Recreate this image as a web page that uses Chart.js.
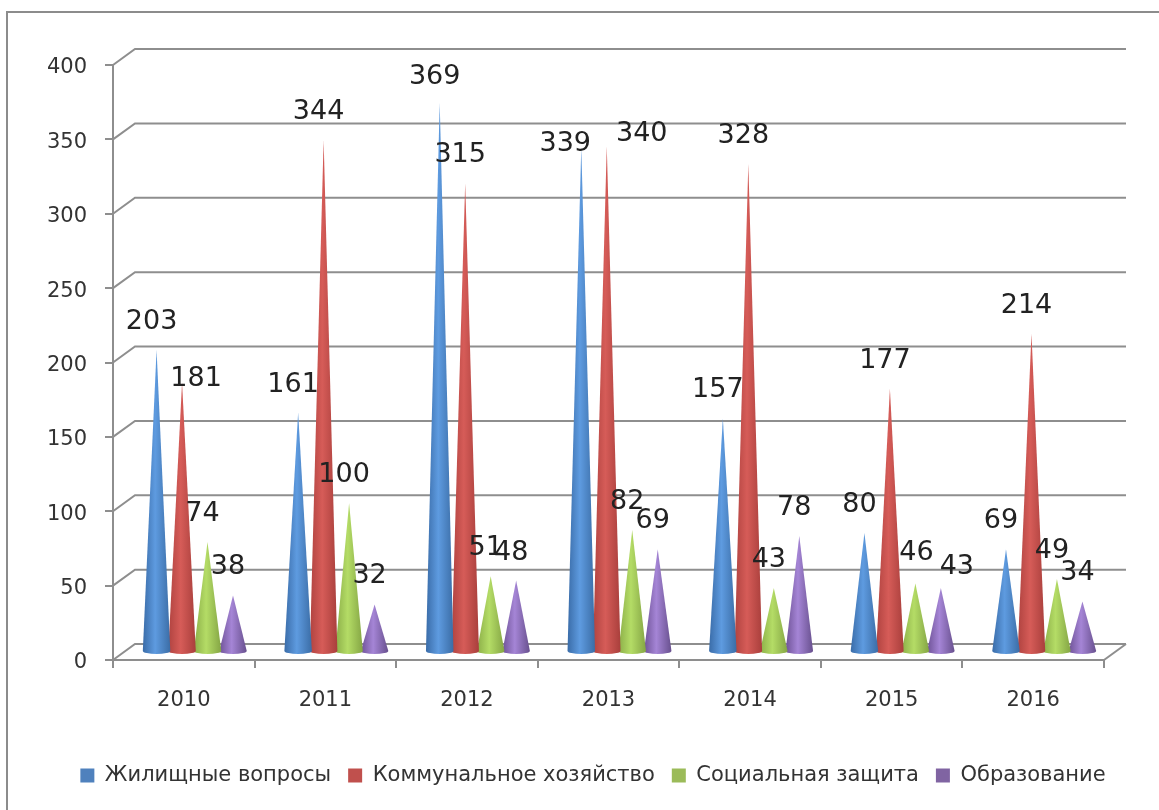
<!DOCTYPE html>
<html>
<head>
<meta charset="utf-8">
<script src="https://cdn.jsdelivr.net/npm/chart.js@4/dist/chart.umd.js"></script>
<style>
    body{margin:0;background:#fff}
    canvas{display:block}
</style>
</head>
<body>
<canvas id="coneChart" width="1159" height="810"></canvas>
<script>
const years = ['2010','2011','2012','2013','2014','2015','2016']
const housing = [203,161,369,339,157,80,69]
const utilities = [181,344,315,340,328,177,214]
const social = [74,100,51,82,43,46,49]
const education = [38,32,48,69,78,43,34]
const yTicks = [0,50,100,150,200,250,300,350,400]

const colors = ['#4F81BD','#C0504D','#9BBB59','#8064A2']
// left edge, highlight, right edge of each cone
const shades = {
    '#4F81BD':['#3A6CA8','#5E9BE0','#3B6DA6'],
    '#C0504D':['#B04340','#D65C58','#A93F3C'],
    '#9BBB59':['#8BAE48','#B4DC66','#84A544'],
    '#8064A2':['#6E5296','#A585D6','#68508E']
}
const gridColor = '#8E8E8E'
const textColor = '#333333'
const fontName = '"DejaVu Sans"'

// 3d depth of the box: how far the back wall sits from the front axes
const depthX = 22
const depthY = 16

// default label sits up and left of the tip, these are the ones placed elsewhere
const labelShift = {
    '1:0':[19,24],
    '0:3':[-11,24],
    '1:3':[40,16],
    '2:5':[6,-3],
    '3:5':[21,7],
    '0:2':[0,2]
}

// bars become cones, half way into the box
Chart.elements.BarElement.prototype.draw = function(ctx){
    const {x,y,base,width} = this.getProps(['x','y','base','width'])
    const cx = x + depthX/2
    const tip = y - depthY/2
    const by = base - depthY/2
    const r = width/2 + 1
    const s = shades[this.options.backgroundColor]
    const grad = ctx.createLinearGradient(cx-r,0,cx+r,0)
    grad.addColorStop(0,s[0])
    grad.addColorStop(0.45,s[1])
    grad.addColorStop(1,s[2])
    ctx.save()
    ctx.fillStyle = grad
    ctx.beginPath()
    ctx.moveTo(cx,tip)
    ctx.lineTo(cx+r,by)
    ctx.ellipse(cx,by,r,3,0,0,Math.PI)
    ctx.closePath()
    ctx.fill()
    ctx.restore()
}

const boxPlugin = {
    id:'box',
    beforeDraw(chart){
        const ctx = chart.ctx
        ctx.save()
        ctx.fillStyle = '#fff'
        ctx.fillRect(0,0,chart.width,chart.height)
        ctx.strokeStyle = '#8C8C8C'
        ctx.lineWidth = 2
        ctx.beginPath()
        ctx.moveTo(7,chart.height)
        ctx.lineTo(7,12)
        ctx.lineTo(chart.width,12)
        ctx.stroke()
        ctx.restore()
    },
    afterLayout(chart){
        // legend is centred on the page, not on the plot
        chart.legend.left += 41
        chart.legend.right += 41
    },
    beforeDatasetsDraw(chart){
        const {ctx,chartArea,scales} = chart
        ctx.save()
        ctx.strokeStyle = gridColor
        ctx.lineWidth = 2
        yTicks.forEach(t=>{
            const py = scales.y.getPixelForValue(t)
            ctx.beginPath()
            ctx.moveTo(chartArea.left,py)
            ctx.lineTo(chartArea.left+depthX,py-depthY)
            ctx.lineTo(chartArea.right+depthX,py-depthY)
            ctx.stroke()
        })
        ctx.beginPath()
        ctx.moveTo(chartArea.right,chartArea.bottom)
        ctx.lineTo(chartArea.right+depthX,chartArea.bottom-depthY)
        ctx.stroke()
        ctx.restore()
    },
    afterDatasetsDraw(chart){
        const ctx = chart.ctx
        ctx.save()
        ctx.fillStyle = '#222'
        ctx.font = '27px '+fontName
        ctx.textAlign = 'center'
        ctx.textBaseline = 'middle'
        chart.data.datasets.forEach((ds,d)=>{
            chart.getDatasetMeta(d).data.forEach((bar,i)=>{
                const shift = labelShift[d+':'+i] || [0,0]
                const lx = bar.x + depthX/2 - 5 + shift[0]
                const ly = bar.y - depthY/2 - 28 + shift[1]
                ctx.fillText(ds.data[i],lx,ly)
            })
        })
        ctx.restore()
    }
}

new Chart(document.querySelector('#coneChart'),{
    type:'bar',
    data:{
        labels:years,
        datasets:[
            {label:'Жилищные вопросы',data:housing,backgroundColor:colors[0]},
            {label:'Коммунальное хозяйство',data:utilities,backgroundColor:colors[1]},
            {label:'Социальная защита',data:social,backgroundColor:colors[2]},
            {label:'Образование',data:education,backgroundColor:colors[3]}
        ]
    },
    options:{
        responsive:false,
        animation:false,
        categoryPercentage:0.72,
        barPercentage:1,
        layout:{padding:{top:65,right:55,bottom:14}},
        plugins:{
            tooltip:{enabled:false},
            legend:{
                position:'bottom',
                labels:{
                    boxWidth:14,
                    boxHeight:14,
                    padding:17,
                    color:textColor,
                    font:{family:fontName,size:21}
                }
            }
        },
        scales:{
            x:{
                afterFit(scale){scale.height = 88},
                grid:{drawOnChartArea:false,color:gridColor,lineWidth:2,tickLength:8},
                border:{color:gridColor,width:2},
                ticks:{color:textColor,padding:20,maxRotation:0,font:{family:fontName,size:21}}
            },
            y:{
                min:0,
                max:400,
                afterFit(scale){scale.width = 113},
                afterBuildTicks(scale){scale.ticks = yTicks.map(v=>({value:v}))},
                grid:{drawOnChartArea:false,color:gridColor,lineWidth:2,tickLength:8},
                border:{color:gridColor,width:2},
                ticks:{color:textColor,padding:18,labelOffset:3,font:{family:fontName,size:21}}
            }
        }
    },
    plugins:[boxPlugin]
})
</script>
</body>
</html>
